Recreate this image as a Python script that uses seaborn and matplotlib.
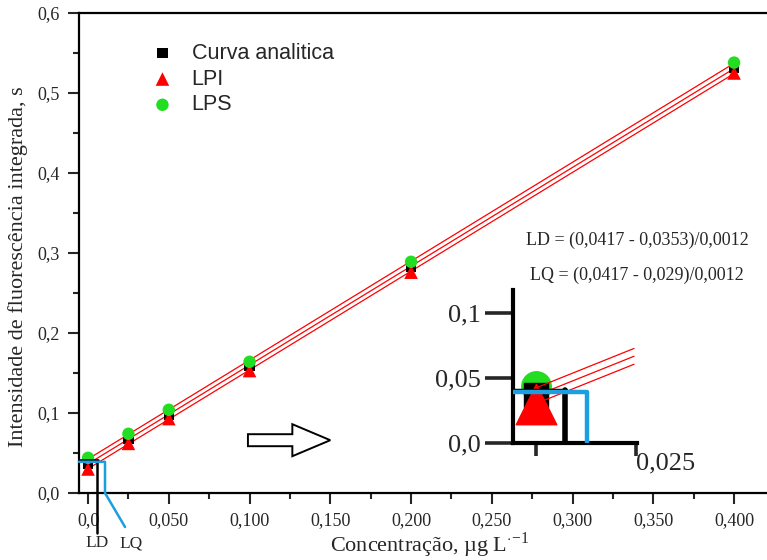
import numpy as np
import pandas as pd
import matplotlib
matplotlib.use("Agg")
import matplotlib.pyplot as plt
from matplotlib.patches import FancyArrow
import seaborn as sns

# data
conc = [0.0, 0.025, 0.05, 0.1, 0.2, 0.4]
curva = [0.037, 0.068, 0.098, 0.159, 0.283, 0.531]
lpi = [0.030, 0.062, 0.093, 0.153, 0.276, 0.525]
lps = [0.044, 0.074, 0.104, 0.164, 0.289, 0.538]

x_ticks = [0.0, 0.05, 0.1, 0.15, 0.2, 0.25, 0.3, 0.35, 0.4]
x_labels = ["0,0", "0,050", "0,100", "0,150", "0,200", "0,250", "0,300", "0,350", "0,400"]
y_ticks = [0.0, 0.1, 0.2, 0.3, 0.4, 0.5, 0.6]
y_labels = ["0,0", "0,1", "0,2", "0,3", "0,4", "0,5", "0,6"]

ld_x, lq_x, cut_y = 0.0056, 0.0105, 0.039
ld_txt = "LD = (0,0417 - 0,0353)/0,0012"
lq_txt = "LQ = (0,0417 - 0,029)/0,0012"

sns.set_theme(style="ticks")
serif = ["Liberation Serif", "DejaVu Serif"]
sans = ["Liberation Sans", "DejaVu Sans"]
plt.rcParams["font.family"] = serif
plt.rcParams["mathtext.fontset"] = "custom"
plt.rcParams["mathtext.rm"] = "Liberation Serif"

df = pd.DataFrame({"x": conc, "curva": curva, "lpi": lpi, "lps": lps})

fig = plt.figure(figsize=(7.67, 5.6), dpi=100)
W, H = 767, 560
ax = fig.add_axes([79 / W, 67 / H, (767 - 79) / W, (493 - 13) / H])

# fitted lines
for col in ["lps", "curva", "lpi"]:
    sns.regplot(data=df, x="x", y=col, ax=ax, ci=None, scatter=False,
                color="red", line_kws={"lw": 0.9})

sns.scatterplot(data=df, x="x", y="curva", ax=ax, marker="s", color="black",
                s=55, edgecolor="none", label="Curva analitica", zorder=5)
sns.scatterplot(data=df, x="x", y="lpi", ax=ax, marker="^", color="red",
                s=95, edgecolor="none", label="LPI", zorder=6)
sns.scatterplot(data=df, x="x", y="lps", ax=ax, marker="o", color="#22dd22",
                s=80, edgecolor="none", label="LPS", zorder=7)

ax.set_xlim(-0.0056, 0.4204)
ax.set_ylim(0, 0.6)
ax.set_xticks(x_ticks)
ax.set_xticklabels(x_labels, fontsize=13)
ax.set_yticks(y_ticks)
ax.set_yticklabels(y_labels, fontsize=13)
ax.set_xticks(np.arange(0.025, 0.42, 0.05), minor=True)
ax.set_yticks(np.arange(0.05, 0.6, 0.1), minor=True)
ax.tick_params(which="major", length=8, width=1.5, direction="out", pad=6)
ax.tick_params(which="minor", length=4, width=1.5, direction="out")
for s in ["left", "bottom", "top"]:
    ax.spines[s].set_linewidth(1.6)
    ax.spines[s].set_color("black")
ax.spines["right"].set_visible(False)
ax.set_xlabel("")
ax.set_ylabel("")
fig.text(430 / W, 1 - 545 / H, "Concentração, µg L$^{\\cdot}$$^{-1}$", ha="center",
         va="center", fontsize=16)
fig.text(18 / W, 1 - 267 / H, "Intensidade de fluorescência integrada, s",
         rotation=90, ha="center", va="center", fontsize=16)

ax.legend(loc="upper left", bbox_to_anchor=(0.09, 0.96), frameon=False,
          prop={"family": sans, "size": 15.5}, handlelength=1.0,
          handletextpad=0.85, labelspacing=0.22, borderpad=0)

# LD / LQ construction lines
ax.plot([-0.0056, ld_x + 0.0005], [0.041, 0.041], color="black", lw=1.8, clip_on=False, zorder=8)
ax.plot([ld_x, ld_x], [0.041, -0.05], color="black", lw=1.8, clip_on=False, zorder=8)
ax.plot([-0.0056, lq_x, lq_x, 0.0229], [cut_y, cut_y, 0.0, -0.0425],
        color="#1a9fe0", lw=1.8, clip_on=False, zorder=8)
ax.text(ld_x, -0.0625, "LD", ha="center", va="center", fontsize=12.5)
ax.text(0.0265, -0.0625, "LQ", ha="center", va="center", fontsize=12.5)

# hollow arrow
ax.add_patch(FancyArrow(0.099, 0.066, 0.051, 0, width=0.015, head_width=0.04,
                        head_length=0.0235, length_includes_head=True,
                        facecolor="white", edgecolor="black", lw=1.4))

fig.text(637 / W, 1 - 240 / H, ld_txt, ha="center", va="center", fontsize=13)
fig.text(637 / W, 1 - 275 / H, lq_txt, ha="center", va="center", fontsize=13)

# inset zoom
ins = fig.add_axes([513 / W, (560 - 443) / H, (637 - 513) / W, (443 - 290) / H])
ins.patch.set_alpha(0)
x_end = 0.0245
xx = np.array([0.0, x_end])
for col in ["lps", "curva", "lpi"]:
    k, b = np.polyfit(df["x"], df[col], 1)
    ins.plot(xx, k * xx + b, color="red", lw=0.9, zorder=7)
ins.scatter(df["x"][:1], df["lps"][:1], marker="o", color="#22dd22", s=450, zorder=4)
ins.scatter(df["x"][:1], df["curva"][:1], marker="s", color="black", s=300, zorder=5)
ins.scatter(df["x"][:1], df["lpi"][:1], marker="^", color="red", s=850, zorder=6)
ins.plot([-0.00575, 0.0075], [0.041, 0.041], color="black", lw=2.5, zorder=8)
ins.plot([0.00725, 0.00725], [0.041, 0], color="black", lw=4, zorder=8)
ins.plot([-0.00575, 0.0128, 0.0128], [0.039, 0.039, 0], color="#1a9fe0", lw=3.2, zorder=9)
ins.set_xlim(-0.00575, 0.02525)
ins.set_ylim(0, 0.1177)
ins.set_yticks([0.0, 0.05, 0.1])
ins.set_yticklabels(["0,0", "0,05", "0,1"], fontsize=19)
ins.set_xticks([0.0, 0.025])
ins.set_xticklabels(["", "0,025"], fontsize=19)
ins.tick_params(axis="y", length=20, width=2.6, pad=3)
ins.tick_params(axis="x", length=9, width=2.6, pad=-2)
for s in ["top", "right"]:
    ins.spines[s].set_visible(False)
for s in ["left", "bottom"]:
    ins.spines[s].set_linewidth(3)
    ins.spines[s].set_color("black")
for t in ins.get_xticklabels():
    t.set_ha("left")

fig.savefig("out.png", dpi=100)
